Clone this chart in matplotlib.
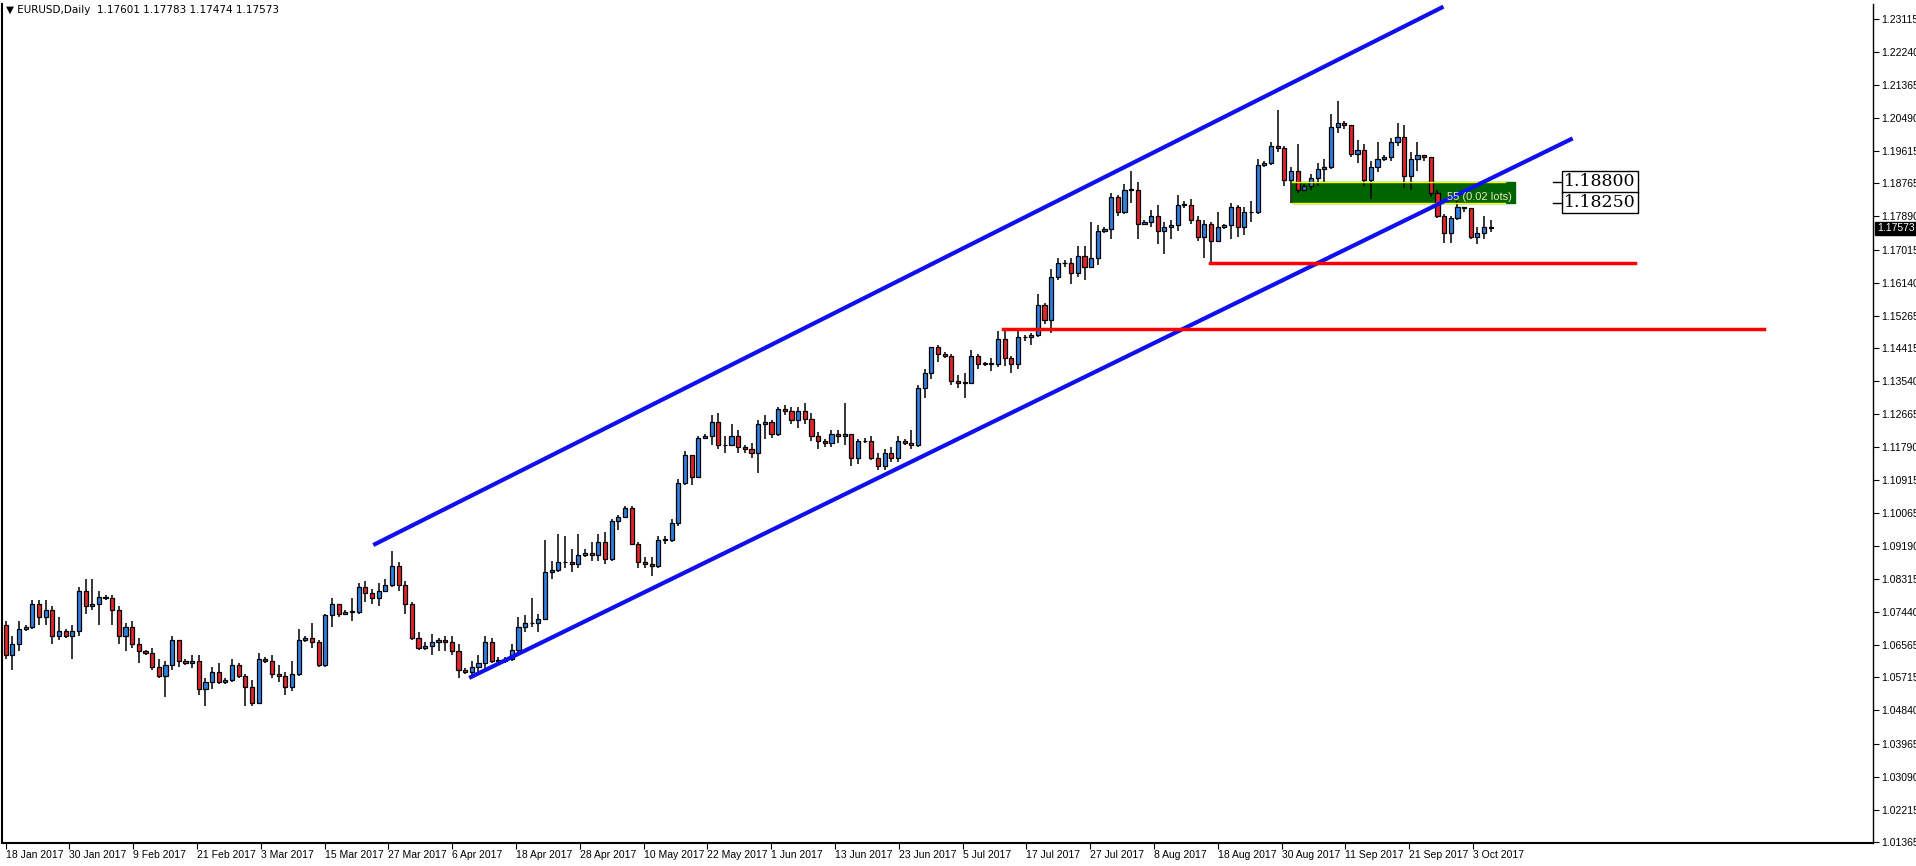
import matplotlib
matplotlib.use("Agg")
import matplotlib.pyplot as plt
import pandas as pd
import numpy as np

plt.rcParams['font.family'] = ['Liberation Sans Narrow', 'Liberation Sans', 'DejaVu Sans']

# Daily bars (Sun-Fri), 18 Jan 2017 .. 5 Oct 2017
first_open = 1.0710
closes = [
1.0630,1.0660,1.0700,1.0705,1.0765,1.0730,1.0750,1.0680,1.0695,1.0680,
1.0695,1.0800,1.0760,1.0765,1.0785,1.0780,1.0750,1.0680,1.0705,1.0660,
1.0640,1.0635,1.0600,1.0575,1.0605,1.0670,1.0615,1.0610,1.0615,1.0540,
1.0560,1.0585,1.0560,1.0565,1.0605,1.0575,1.0545,1.0505,1.0620,1.0615,
1.0580,1.0575,1.0545,1.0580,1.0670,1.0675,1.0665,1.0605,1.0735,1.0765,
1.0740,1.0745,1.0745,1.0810,1.0795,1.0780,1.0800,1.0815,1.0865,1.0815,
1.0765,1.0675,1.0650,1.0655,1.0665,1.0670,1.0665,1.0640,1.0590,1.0585,
1.0600,1.0610,1.0665,1.0615,1.0615,1.0620,1.0645,1.0705,1.0715,1.0715,
1.0725,1.0850,1.0855,1.0875,1.0875,1.0870,1.0895,1.0900,1.0895,1.0930,
1.0885,1.0985,1.0995,1.1020,1.0925,1.0875,1.0870,1.0865,1.0935,1.0935,
1.0980,1.1085,1.1160,1.1100,1.1205,1.1210,1.1245,1.1185,1.1185,1.1210,
1.1180,1.1175,1.1165,1.1240,1.1245,1.1215,1.1280,1.1275,1.1250,1.1275,
1.1255,1.1210,1.1195,1.1190,1.1215,1.1210,1.1215,1.1150,1.1195,1.1195,
1.1150,1.1130,1.1165,1.1150,1.1195,1.1190,1.1185,1.1335,1.1375,1.1445,
1.1425,1.1420,1.1355,1.1350,1.1350,1.1420,1.1400,1.1400,1.1400,1.1465,
1.1415,1.1400,1.1470,1.1470,1.1475,1.1555,1.1515,1.1630,1.1665,1.1665,
1.1640,1.1685,1.1655,1.1680,1.1750,1.1755,1.1840,1.1800,1.1860,1.1860,
1.1770,1.1775,1.1790,1.1750,1.1760,1.1765,1.1820,1.1820,1.1780,1.1735,
1.1770,1.1725,1.1760,1.1765,1.1815,1.1760,1.1800,1.1800,1.1925,1.1930,
1.1975,1.1970,1.1885,1.1910,1.1860,1.1870,1.1890,1.1915,1.1920,1.2025,
1.2035,1.2030,1.1955,1.1965,1.1885,1.1920,1.1940,1.1945,1.1985,1.2000,
1.1895,1.1940,1.1950,1.1945,1.1850,1.1790,1.1745,1.1785,1.1815,1.1810,
1.1735,1.1745,1.1760,1.17573]
highs = [
1.0720,1.0680,1.0720,1.0710,1.0775,1.0775,1.0775,1.0760,1.0730,1.0700,
1.0710,1.0810,1.0830,1.0830,1.0800,1.0790,1.0790,1.0760,1.0715,1.0720,
1.0675,1.0645,1.0650,1.0620,1.0615,1.0680,1.0670,1.0620,1.0630,1.0630,
1.0570,1.0600,1.0610,1.0570,1.0620,1.0610,1.0580,1.0565,1.0635,1.0625,
1.0630,1.0605,1.0585,1.0615,1.0700,1.0680,1.0715,1.0670,1.0740,1.0780,
1.0760,1.0750,1.0780,1.0820,1.0825,1.0805,1.0820,1.0830,1.0905,1.0875,
1.0825,1.0770,1.0690,1.0665,1.0685,1.0675,1.0680,1.0680,1.0660,1.0595,
1.0615,1.0630,1.0680,1.0675,1.0625,1.0625,1.0660,1.0730,1.0735,1.0780,
1.0740,1.0935,1.0880,1.0950,1.0945,1.0910,1.0950,1.0910,1.0930,1.0950,
1.0955,1.0990,1.1000,1.1025,1.1025,1.0930,1.0890,1.0890,1.0945,1.0945,
1.0990,1.1095,1.1170,1.1160,1.1210,1.1215,1.1265,1.1270,1.1210,1.1240,
1.1225,1.1185,1.1190,1.1250,1.1265,1.1250,1.1285,1.1290,1.1285,1.1285,
1.1295,1.1270,1.1220,1.1200,1.1225,1.1225,1.1295,1.1215,1.1200,1.1205,
1.1210,1.1165,1.1175,1.1180,1.1210,1.1200,1.1225,1.1345,1.1385,1.1445,
1.1450,1.1430,1.1425,1.1370,1.1375,1.1435,1.1425,1.1405,1.1415,1.1485,
1.1490,1.1420,1.1490,1.1475,1.1480,1.1585,1.1560,1.1650,1.1680,1.1675,
1.1680,1.1710,1.1710,1.1775,1.1765,1.1760,1.1850,1.1845,1.1875,1.1910,
1.1880,1.1780,1.1805,1.1820,1.1775,1.1780,1.1845,1.1830,1.1835,1.1790,
1.1780,1.1775,1.1800,1.1770,1.1825,1.1820,1.1815,1.1830,1.1940,1.1935,
1.1985,1.2070,1.1975,1.1920,1.1980,1.1875,1.1900,1.1930,1.1940,1.2060,
1.2095,1.2040,1.2030,1.1990,1.1980,1.1935,1.1985,1.1950,1.1995,1.2035,
1.2030,1.1960,1.1985,1.1950,1.1945,1.1860,1.1795,1.1790,1.1830,1.1815,
1.1810,1.1760,1.1790,1.17783]
lows = [
1.0620,1.0590,1.0640,1.0695,1.0700,1.0710,1.0710,1.0660,1.0670,1.0675,
1.0620,1.0680,1.0740,1.0750,1.0710,1.0775,1.0710,1.0660,1.0640,1.0650,
1.0610,1.0630,1.0590,1.0570,1.0520,1.0590,1.0600,1.0605,1.0595,1.0525,
1.0495,1.0540,1.0555,1.0555,1.0560,1.0570,1.0495,1.0495,1.0500,1.0610,
1.0570,1.0560,1.0525,1.0535,1.0575,1.0665,1.0650,1.0600,1.0600,1.0705,
1.0730,1.0735,1.0720,1.0740,1.0770,1.0765,1.0760,1.0805,1.0810,1.0800,
1.0740,1.0670,1.0645,1.0645,1.0630,1.0640,1.0640,1.0630,1.0570,1.0580,
1.0575,1.0585,1.0590,1.0610,1.0605,1.0610,1.0615,1.0630,1.0690,1.0705,
1.0690,1.0820,1.0830,1.0850,1.0860,1.0850,1.0860,1.0890,1.0880,1.0880,
1.0870,1.0880,1.0960,1.0995,1.0920,1.0860,1.0860,1.0840,1.0860,1.0925,
1.0930,1.0970,1.1080,1.1080,1.1100,1.1200,1.1185,1.1175,1.1165,1.1185,
1.1165,1.1165,1.1150,1.1110,1.1200,1.1205,1.1210,1.1265,1.1240,1.1230,
1.1240,1.1195,1.1175,1.1180,1.1180,1.1190,1.1185,1.1130,1.1135,1.1190,
1.1145,1.1120,1.1120,1.1140,1.1140,1.1185,1.1175,1.1180,1.1310,1.1360,
1.1405,1.1415,1.1345,1.1335,1.1310,1.1350,1.1385,1.1395,1.1380,1.1390,
1.1395,1.1375,1.1385,1.1460,1.1450,1.1470,1.1505,1.1480,1.1620,1.1655,
1.1610,1.1630,1.1620,1.1655,1.1660,1.1745,1.1730,1.1790,1.1795,1.1825,
1.1730,1.1765,1.1760,1.1715,1.1690,1.1730,1.1750,1.1810,1.1770,1.1725,
1.1680,1.1660,1.1725,1.1755,1.1730,1.1735,1.1740,1.1775,1.1795,1.1920,
1.1925,1.1960,1.1870,1.1825,1.1850,1.1860,1.1860,1.1870,1.1880,1.1915,
1.2010,1.2020,1.1945,1.1930,1.1870,1.1835,1.1905,1.1935,1.1935,1.1975,
1.1865,1.1860,1.1910,1.1935,1.1840,1.1785,1.1720,1.1720,1.1780,1.1800,
1.1730,1.1715,1.1730,1.17474]

all_days = pd.date_range("2017-01-18", "2017-10-05", freq="D")
dates = [d for d in all_days if d.dayofweek != 5]
n = min(len(dates), len(closes), len(highs), len(lows))
closes, highs, lows, dates = closes[:n], highs[:n], lows[:n], dates[:n]
opens = [first_open] + closes[:-1]
opens[-1] = 1.17601

date_labels = ["18 Jan 2017","30 Jan 2017","9 Feb 2017","21 Feb 2017","3 Mar 2017","15 Mar 2017",
               "27 Mar 2017","6 Apr 2017","18 Apr 2017","28 Apr 2017","10 May 2017","22 May 2017",
               "1 Jun 2017","13 Jun 2017","23 Jun 2017","5 Jul 2017","17 Jul 2017","27 Jul 2017",
               "8 Aug 2017","18 Aug 2017","30 Aug 2017","11 Sep 2017","21 Sep 2017","3 Oct 2017"]
yticks = [1.01365,1.02215,1.03090,1.03965,1.04840,1.05715,1.06565,1.07440,1.08315,1.09190,
          1.10065,1.10915,1.11790,1.12665,1.13540,1.14415,1.15265,1.16140,1.17015,1.17890,
          1.18765,1.19615,1.20490,1.21365,1.22240,1.23115]

# trend / level lines: (bar index, price)
upper_channel = [(55.2, 1.0921), (215.9, 1.2343)]
lower_channel = [(69.6, 1.0570), (235.3, 1.1995)]
red_levels = [(180.9, 244.6, 1.1666), (149.7, 264.1, 1.1492)]
zone = (193.2, 226.7, 1.1825, 1.1880)
cur_price = 1.17573

fig = plt.figure(figsize=(19.16, 8.66), dpi=100)
ax = fig.add_axes([2/1916, 1 - 843/866, 1871/1916, 839/866])
x = np.arange(n)
ax.set_xlim(-0.55, 280.4)
ax.set_ylim(1.0134, 1.2350)

o = np.array(opens); c = np.array(closes)
bull = c >= o
bottoms = np.minimum(o, c); heights = np.maximum(np.abs(c - o), 0.00012)
ax.vlines(x, lows, highs, color="black", lw=1.1, zorder=2)
ax.bar(x[bull], heights[bull], bottom=bottoms[bull], width=0.62, color="#2f7fe0",
       edgecolor="black", lw=0.9, zorder=3)
ax.bar(x[~bull], heights[~bull], bottom=bottoms[~bull], width=0.62, color="#e0262a",
       edgecolor="black", lw=0.9, zorder=3)

# zone
ax.fill_between([zone[0], zone[1]], zone[2], zone[3], color="#006400", zorder=1)
ax.plot([zone[0], zone[1]-1.6], [zone[3], zone[3]], color="yellow", lw=1, zorder=4)
ax.plot([zone[0], zone[1]-1.6], [zone[2], zone[2]], color="yellow", lw=1, zorder=4)
ax.text(216.5, 1.1827, "55 (0.02 lots)", color="#e8e8c0", fontsize=8, va="bottom", zorder=5)

for (x0, y0), (x1, y1) in [upper_channel, lower_channel]:
    ax.plot([x0, x1], [y0, y1], color="#1010ee", lw=3, zorder=4, solid_capstyle="butt")
for x0, x1, y0 in red_levels:
    ax.plot([x0, x1], [y0, y0], color="#ff0000", lw=2.5, zorder=4)

for lvl in (1.1880, 1.1825):
    ax.plot([232.4, 233.8], [lvl, lvl], color="black", lw=1, zorder=5)
    ax.text(234.0, lvl, f"{lvl:.5f}", fontsize=12.5, family="DejaVu Serif", va="center", ha="left",
            bbox=dict(boxstyle="square,pad=0.12", fc="white", ec="black", lw=1), zorder=6)

ax.spines["top"].set_visible(False)
ax.spines["left"].set_linewidth(1.5)
ax.spines["bottom"].set_linewidth(1.5)
ax.spines["right"].set_linewidth(1.0)
ax.yaxis.tick_right()
ax.set_yticks(yticks)
ax.set_yticklabels([f"{t:.5f}" for t in yticks], fontsize=7.5)
ax.tick_params(axis="y", length=4, pad=2)

# MT4 places date labels at equal pixel steps
label_step = 9.58
ax.set_xticks([k * label_step for k in range(len(date_labels))])
ax.set_xticklabels(date_labels, fontsize=7.5, ha="left")
ax.tick_params(axis="x", length=4, pad=1)

ax.text(280.4 + 0.6, cur_price, f"{cur_price:.5f}", fontsize=7.5, color="white", va="center",
        ha="left", bbox=dict(boxstyle="square,pad=0.15", fc="black", ec="black"), zorder=6,
        clip_on=False)

fig.text(6/1916, 1 - 10/866, "\u25bc EURUSD,Daily  1.17601 1.17783 1.17474 1.17573",
         fontsize=7.5, va="center", ha="left", family=['DejaVu Sans'])

fig.savefig("out.png", dpi=100)
